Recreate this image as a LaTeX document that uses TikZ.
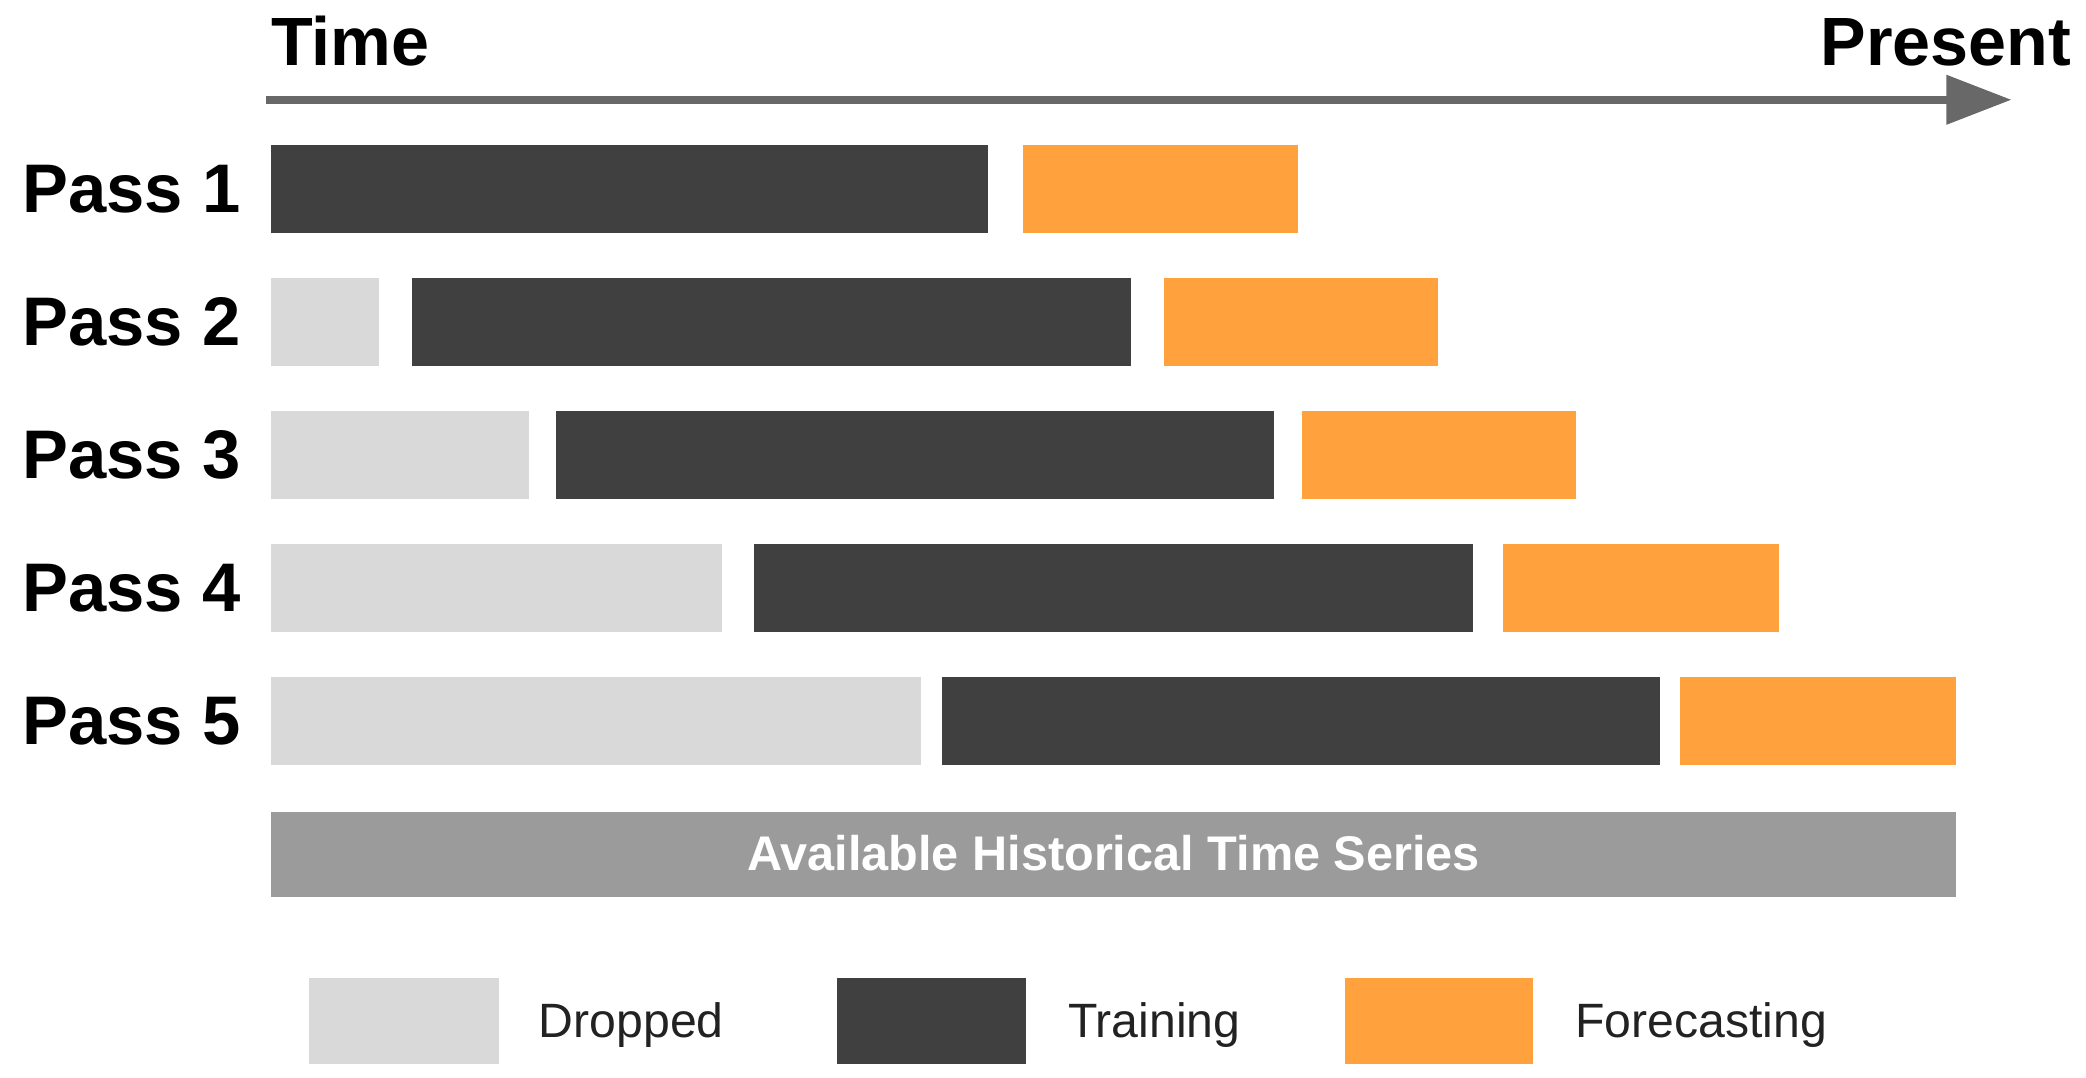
\documentclass[tikz,border=0pt]{standalone}
\usepackage{fontspec}
\setmainfont{Liberation Sans}
\usetikzlibrary{arrows.meta}
\definecolor{dropc}{HTML}{D9D9D9}
\definecolor{trainc}{HTML}{404040}
\definecolor{forec}{HTML}{FFA13C}
\definecolor{availc}{HTML}{9B9B9B}
\definecolor{arrowc}{HTML}{686868}
\definecolor{legtxt}{HTML}{222222}
\begin{document}
\begin{tikzpicture}[x=0.01cm,y=-0.01cm,
  lbl/.style={inner sep=0,outer sep=0,font=\fontsize{14.6}{17}\selectfont\bfseries,text=black},
  passlbl/.style={inner sep=0,outer sep=0,anchor=base west,font=\fontsize{14.7}{17}\selectfont\bfseries,text=black},
  legtext/.style={inner sep=0,outer sep=0,anchor=base west,font=\fontsize{10.3}{12}\selectfont,text=legtxt},
  dropbar/.style={fill=dropc},
  trainbar/.style={fill=trainc},
  forebar/.style={fill=forec},
  availbar/.style={fill=availc},
  timearrow/.style={draw=arrowc,line width=1.7pt,-{Triangle[length=0.49cm,width=0.36cm]}}
]
\useasboundingbox (0,0) rectangle (1568,810);
% time axis
\node[lbl,anchor=base west] (time) at (204,49) {Time};
\node[lbl,anchor=base east] (present) at (1557,49) {Present};
\coordinate (tstart) at (200,75);
\coordinate (tend) at (1512,75);
\draw[timearrow] (tstart) -- (tend);
% pass labels
\node[passlbl] (p1) at (17,160) {Pass 1};
\node[passlbl] (p2) at (17,260) {Pass 2};
\node[passlbl] (p3) at (17,360) {Pass 3};
\node[passlbl] (p4) at (17,460) {Pass 4};
\node[passlbl] (p5) at (17,560) {Pass 5};
% pass 1
\path[trainbar] (204,109) rectangle (743,175);
\path[forebar] (769,109) rectangle (976,175);
% pass 2
\path[dropbar] (204,209) rectangle (285,275);
\path[trainbar] (310,209) rectangle (850,275);
\path[forebar] (875,209) rectangle (1081,275);
% pass 3
\path[dropbar] (204,309) rectangle (398,375);
\path[trainbar] (418,309) rectangle (958,375);
\path[forebar] (979,309) rectangle (1185,375);
% pass 4
\path[dropbar] (204,409) rectangle (543,475);
\path[trainbar] (567,409) rectangle (1107,475);
\path[forebar] (1130,409) rectangle (1337,475);
% pass 5
\path[dropbar] (204,509) rectangle (692,575);
\path[trainbar] (708,509) rectangle (1248,575);
\path[forebar] (1263,509) rectangle (1470,575);
% available
\path[availbar] (204,610) rectangle (1470,674);
\node[inner sep=0,outer sep=0,anchor=base,font=\fontsize{10.4}{12}\selectfont\bfseries,text=white] (avail) at (837,654) {Available Historical Time Series};
% legend
\path[dropbar] (232,735) rectangle (375,800);
\node[legtext] (ldrop) at (405,780) {Dropped};
\path[trainbar] (629,735) rectangle (771,800);
\node[legtext] (ltrain) at (803,780) {Training};
\path[forebar] (1011,735) rectangle (1152,800);
\node[legtext] (lfore) at (1184,780) {Forecasting};
\end{tikzpicture}
\end{document}
